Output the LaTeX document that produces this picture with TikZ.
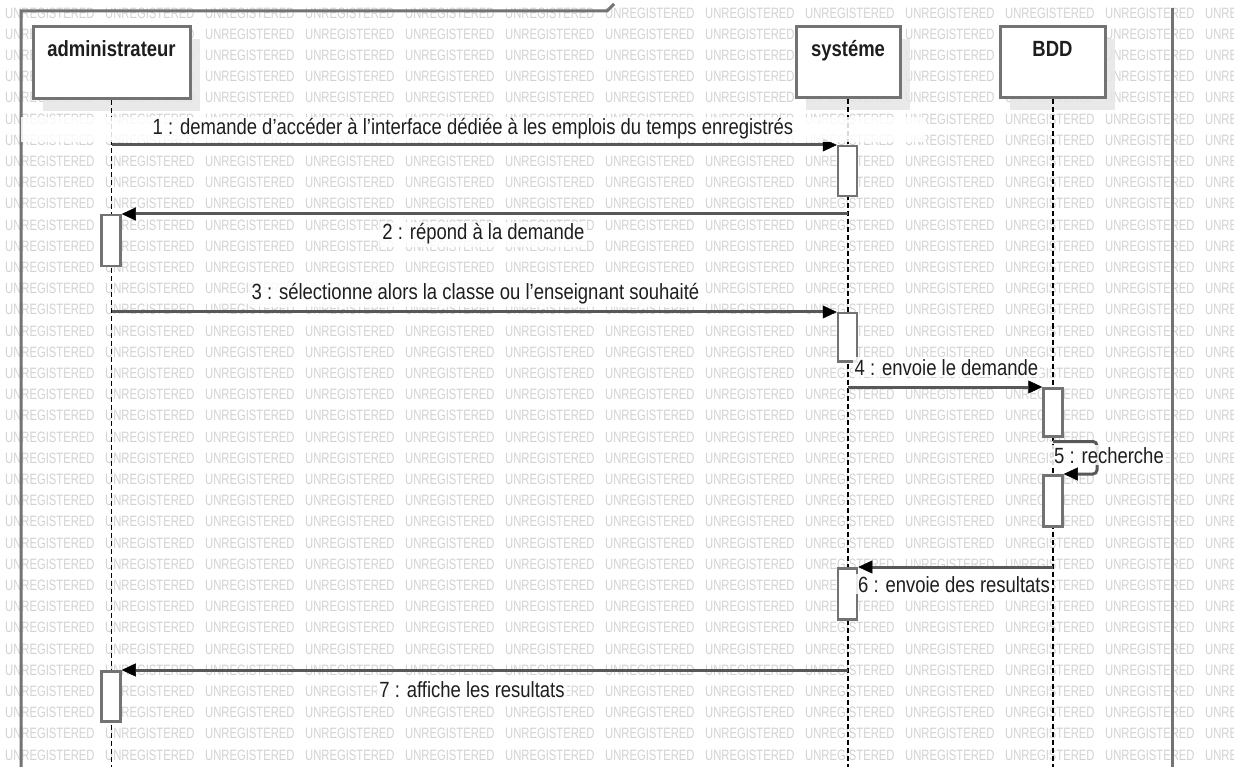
\documentclass[tikz,border=0pt]{standalone}
\usepackage{fontspec}
\setmainfont[FakeStretch=0.84]{Liberation Sans}
\newfontfamily\wmfont[FakeStretch=0.75]{Liberation Sans}
\usetikzlibrary{arrows.meta}
\definecolor{linegray}{HTML}{585858}
\definecolor{boxgray}{HTML}{737373}
\definecolor{wmgray}{HTML}{D2D2D2}
\definecolor{shadowgray}{HTML}{E6E6E6}
\definecolor{ink}{HTML}{1E1E1E}
\tikzset{
  wm/.style={anchor=west, inner sep=0pt, text=wmgray,
    font=\wmfont\fontsize{15}{15}\selectfont},
  frameline/.style={draw=boxgray, line width=3pt},
  head/.style={draw=boxgray, line width=3pt, fill=white, inner sep=0pt},
  headshadow/.style={fill=shadowgray, fill opacity=0.85},
  headtext/.style={anchor=base, inner sep=0pt, text=ink,
    font=\bfseries\fontsize{22}{24}\selectfont},
  lifeline/.style={draw=black, line width=1.2pt, dash pattern=on 5pt off 3pt},
  act/.style={draw=boxgray, line width=2.5pt, fill=white, inner sep=0pt,
    minimum width=19pt, anchor=north},
  msg/.style={draw=linegray, line width=3pt,
    -{Triangle[length=14pt, width=13pt, line width=0.5pt, color=black]}},
  lbl/.style={anchor=base, fill=white, fill opacity=0.85, text opacity=1,
    text=ink, inner sep=2pt, font=\fontsize{22}{24}\selectfont}
}
\begin{document}
\begin{tikzpicture}[x=1pt, y=-1pt]
\useasboundingbox (0,0) rectangle (1234,767);
\fill[white] (0,0) rectangle (1234,767);

% background watermark grid
\foreach \r in {0,...,35}{
  \foreach \c in {0,...,12}{
    \node[wm] (wm-\r-\c) at (5+100*\c, 13+21.2*\r) {UNREGISTERED};
  }
}

% enclosing frame
\draw[frameline] (21,767) -- (21,11) -- (607,11) -- (614,4);
\draw[frameline] (1172,8) -- (1172,767);

% lifeline heads with their shadows
\fill[headshadow] (43,39) rectangle (200,111);
\fill[headshadow] (806,39) rectangle (910,110);
\fill[headshadow] (1010,39) rectangle (1115,110);
\node[head, minimum width=157pt, minimum height=72pt] (adm) at (111.5,63) {};
\node[head, minimum width=104pt, minimum height=71pt] (sys) at (848,62.5) {};
\node[head, minimum width=105pt, minimum height=71pt] (bdd) at (1052.5,62.5) {};
\node[headtext] (admT) at (111.5,57) {administrateur};
\node[headtext] (sysT) at (848,57) {systéme};
\node[headtext] (bddT) at (1052.5,57) {BDD};

% lifelines
\coordinate (admEnd) at (111.5,767);
\coordinate (sysEnd) at (848,767);
\coordinate (bddEnd) at (1053,767);
\draw[lifeline] (adm.south) -- (admEnd);
\draw[lifeline] (sys.south) -- (sysEnd);
\draw[lifeline] ([xshift=0.5pt]bdd.south) -- (bddEnd);

% activation bars
\node[act, minimum height=50pt] (a1) at (847.5,145) {};
\node[act, minimum height=51pt] (a2) at (111,214) {};
\node[act, minimum height=48pt] (a3) at (847.5,312) {};
\node[act, minimum height=48pt] (a4) at (1053,387) {};
\node[act, minimum height=51pt] (a5) at (1053,474) {};
\node[act, minimum height=51pt] (a6) at (847.5,567) {};
\node[act, minimum height=50pt] (a7) at (111,670) {};

% messages
\draw[msg] (adm.south |- a1.north) -- (a1.north west);
\draw[msg] (sys.south |- a2.north) -- (a2.north east);
\draw[msg] (adm.south |- a3.north) -- (a3.north west);
\draw[msg] (sys.south |- a4.north) -- (a4.north west);
\draw[msg, rounded corners=4pt] ([yshift=-4pt]a4.south) -- ++(44,0) |- (a5.north east);
\draw[msg] (bddEnd |- a6.north) -- (a6.north east);
\draw[msg] (sys.south |- a7.north) -- (a7.north east);

% message labels
\node[lbl, minimum width=905pt] (l1) at (473,135)
  {1 : demande d’accéder à l’interface dédiée à les emplois du temps enregistrés};
\node[lbl] (l2) at (483.5,240) {2 : répond à la demande};
\node[lbl] (l3) at (475.5,300) {3 : sélectionne alors la classe ou l’enseignant souhaité};
\node[lbl] (l4) at (946.5,375) {4 : envoie le demande};
\node[lbl] (l5) at (1109,463) {5 : recherche};
\node[lbl] (l6) at (954,592) {6 : envoie des resultats};
\node[lbl] (l7) at (472,697) {7 : affiche les resultats};
\end{tikzpicture}
\end{document}
